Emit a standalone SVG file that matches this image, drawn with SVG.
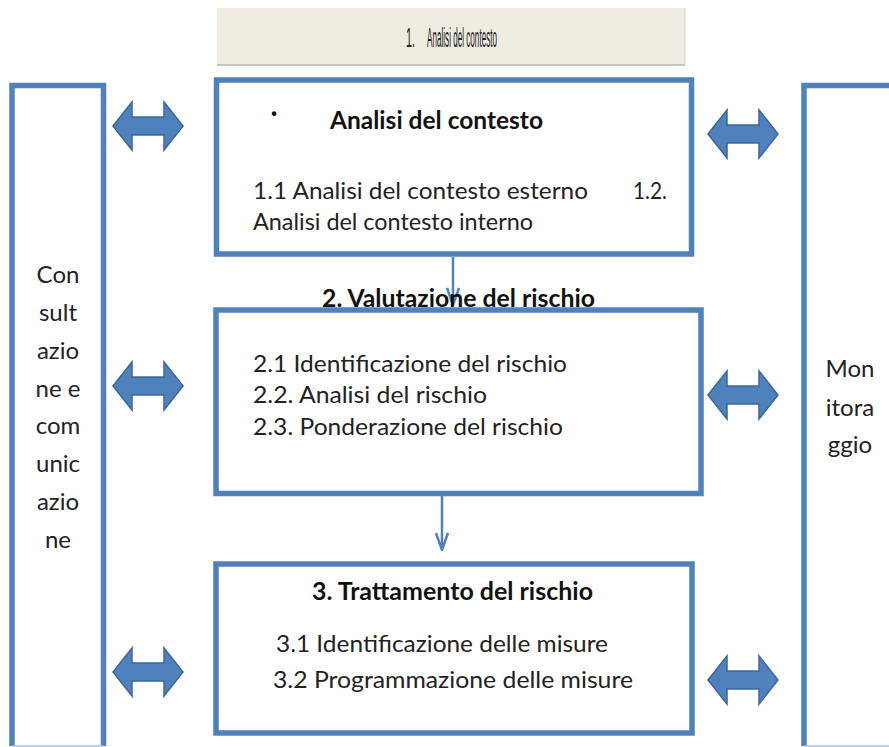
<svg xmlns="http://www.w3.org/2000/svg" width="889" height="747" viewBox="0 0 889 747">
<style>
.box{fill:#ffffff;stroke:#4f81bd;stroke-width:5.5}
.col{fill:#ffffff;stroke:#4f81bd;stroke-width:5.5}
.edge{stroke:#a9c0e2;stroke-width:1.5;fill:none}
.t{font-family:Lato,"Open Sans","Liberation Sans",sans-serif;font-size:24px;fill:#222222}
.b{font-weight:bold;fill:#111111}
.c{text-anchor:middle}
.conn{stroke:#4f81bd;stroke-width:2.5;fill:none}
.dbl{fill:#4f81bd;stroke:#3c679c;stroke-width:1.5;stroke-linejoin:miter}
</style>
<defs>
<marker id="ah" markerUnits="userSpaceOnUse" viewBox="0 0 20 14" refX="19" refY="7" markerWidth="20" markerHeight="14" orient="auto">
<path d="M2,1 L19,7 L2,13" fill="none" stroke="#4f81bd" stroke-width="2.5"/>
</marker>
<path id="dblarrow" d="M-35,0 L-16,-24 L-16,-9 L16,-9 L16,-24 L35,0 L16,24 L16,9 L-16,9 L-16,24 Z"/>
</defs>
<rect width="889" height="747" fill="#ffffff"/>

<g id="banner">
<rect x="217" y="8" width="468" height="57" fill="#eeece1"/>
<line x1="217" y1="65" x2="685" y2="65" stroke="#b8b6ad" stroke-width="1.5"/>
<line x1="685" y1="8" x2="685" y2="65" stroke="#d6d4ca" stroke-width="1"/>
<text class="t" x="406" y="46.5" style="font-family:'Liberation Sans',sans-serif;font-size:27px" textLength="9" lengthAdjust="spacingAndGlyphs">1.</text>
<text class="t" x="427" y="46.5" style="font-family:'Liberation Sans',sans-serif;font-size:27px" textLength="70" lengthAdjust="spacingAndGlyphs">Analisi del contesto</text>
</g>

<g id="connectors">
<line class="conn" x1="453" y1="257" x2="453" y2="305" marker-end="url(#ah)"/>
<line class="conn" x1="442" y1="496" x2="442" y2="550" marker-end="url(#ah)"/>
<use href="#dblarrow" class="dbl" transform="translate(148,126)"/>
<use href="#dblarrow" class="dbl" transform="translate(148,386)"/>
<use href="#dblarrow" class="dbl" transform="translate(148,672)"/>
<use href="#dblarrow" class="dbl" transform="translate(743,134)"/>
<use href="#dblarrow" class="dbl" transform="translate(743,395)"/>
<use href="#dblarrow" class="dbl" transform="translate(743,680)"/>
</g>

<g id="consultazione">
<path class="col" d="M12,746 V85.5 H103.5 V746"/>
<line class="edge" x1="12" y1="746" x2="103.5" y2="746"/>
<text class="t c" x="58" y="283">Con</text>
<text class="t c" x="58" y="321">sult</text>
<text class="t c" x="58" y="359">azio</text>
<text class="t c" x="58" y="397">ne e</text>
<text class="t c" x="58" y="434">com</text>
<text class="t c" x="58" y="472">unic</text>
<text class="t c" x="58" y="510">azio</text>
<text class="t c" x="58" y="548">ne</text>
</g>

<g id="monitoraggio">
<path class="col" d="M804,746 V85.5 H895"/>
<line class="edge" x1="804" y1="746" x2="889" y2="746"/>
<text class="t c" x="850" y="377">Mon</text>
<text class="t c" x="850" y="416">itora</text>
<text class="t c" x="850" y="453">ggio</text>
</g>

<g id="analisi">
<rect class="box" x="216.5" y="80" width="475" height="174"/>
<text class="t b c" x="274" y="121">·</text>
<text class="t b" x="330" y="129" textLength="213" lengthAdjust="spacingAndGlyphs">Analisi del contesto</text>
<text class="t" x="253" y="199" textLength="335" lengthAdjust="spacingAndGlyphs">1.1 Analisi del contesto esterno</text>
<text class="t" x="633" y="199" textLength="34" lengthAdjust="spacingAndGlyphs">1.2.</text>
<text class="t" x="253" y="230" textLength="280" lengthAdjust="spacingAndGlyphs">Analisi del contesto interno</text>
</g>

<g id="valutazione">
<rect class="box" x="216" y="310" width="485" height="183.5"/>
<text class="t b" x="322" y="307" textLength="273" lengthAdjust="spacingAndGlyphs">2. Valutazione del rischio</text>
<text class="t" x="253" y="372" textLength="314" lengthAdjust="spacingAndGlyphs">2.1 Identificazione del rischio</text>
<text class="t" x="253" y="403" textLength="234" lengthAdjust="spacingAndGlyphs">2.2. Analisi del rischio</text>
<text class="t" x="253" y="435" textLength="310" lengthAdjust="spacingAndGlyphs">2.3. Ponderazione del rischio</text>
</g>

<g id="trattamento">
<rect class="box" x="216" y="564" width="476" height="169"/>
<text class="t b" x="312" y="600" textLength="281" lengthAdjust="spacingAndGlyphs">3. Trattamento del rischio</text>
<text class="t" x="276" y="652" textLength="332" lengthAdjust="spacingAndGlyphs">3.1 Identificazione delle misure</text>
<text class="t" x="273" y="688" textLength="360" lengthAdjust="spacingAndGlyphs">3.2 Programmazione delle misure</text>
</g>
</svg>
